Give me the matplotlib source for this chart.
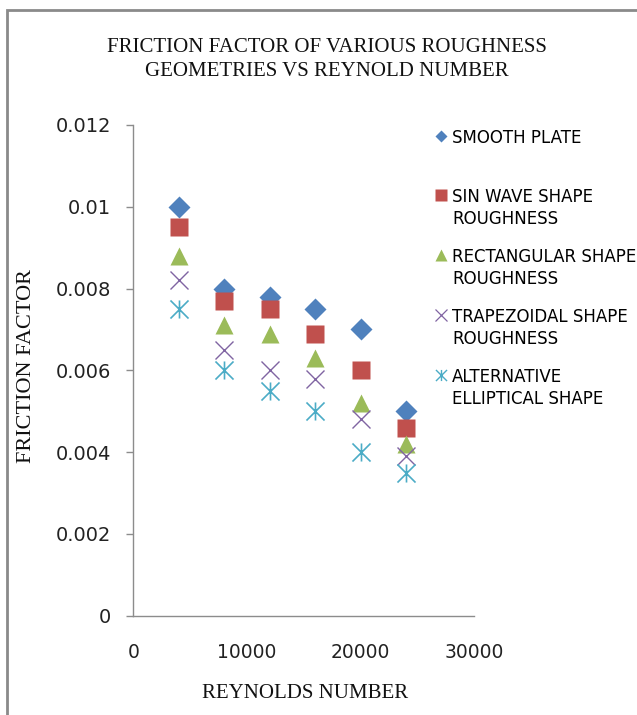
import matplotlib
matplotlib.use("Agg")
import matplotlib.pyplot as plt
from matplotlib.lines import Line2D
from matplotlib.path import Path
from matplotlib.patches import Rectangle
from matplotlib.ticker import FixedLocator

reynolds = [4000, 8000, 12000, 16000, 20000, 24000]
smooth_plate = [0.0100, 0.0080, 0.0078, 0.0075, 0.0070, 0.0050]
sin_wave = [0.0095, 0.0077, 0.0075, 0.0069, 0.0060, 0.0046]
rectangular = [0.0088, 0.0071, 0.0069, 0.0063, 0.0052, 0.0042]
trapezoidal = [0.0082, 0.0065, 0.0060, 0.0058, 0.0048, 0.0039]
elliptical = [0.0075, 0.0060, 0.0055, 0.0050, 0.0040, 0.0035]

series_labels = [
    ["SMOOTH PLATE"],
    ["SIN WAVE SHAPE", "ROUGHNESS"],
    ["RECTANGULAR SHAPE", "ROUGHNESS"],
    ["TRAPEZOIDAL SHAPE", "ROUGHNESS"],
    ["ALTERNATIVE", "ELLIPTICAL SHAPE"],
]
x_ticks = [0, 10000, 20000, 30000]
y_ticks = [0, 0.002, 0.004, 0.006, 0.008, 0.010, 0.012]
y_tick_labels = ["0", "0.002", "0.004", "0.006", "0.008", "0.01", "0.012"]

# asterisk marker: an X with a vertical stroke through it
star_path = Path(
    [(-0.5, -0.5), (0.5, 0.5), (-0.5, 0.5), (0.5, -0.5), (0, -0.5), (0, 0.5)],
    [Path.MOVETO, Path.LINETO, Path.MOVETO, Path.LINETO, Path.MOVETO, Path.LINETO],
)

colors = ["#4F81BD", "#C0504D", "#9BBB59", "#8064A2", "#4BACC6"]
styles = [
    dict(marker="D", ms=11, mec="none"),
    dict(marker="s", ms=13, mec="none"),
    dict(marker="^", ms=13, mec="none"),
    dict(marker="x", ms=13, mew=1.0),
    dict(marker=star_path, ms=13, mew=1.2),
]
all_series = [smooth_plate, sin_wave, rectangular, trapezoidal, elliptical]

W, H = 637, 715
fig = plt.figure(figsize=(W / 100, H / 100), dpi=100)
ax = fig.add_axes([133.3 / W, 1 - 615.7 / H, (474.3 - 133.3) / W, (615.7 - 125) / H])

for vals, st, c in zip(all_series, styles, colors):
    ax.plot(reynolds, vals, linestyle="none", color=c, **st)

ax.set_xlim(0, 30000)
ax.set_ylim(0, 0.012)
ax.xaxis.set_major_locator(FixedLocator(x_ticks))
ax.set_xticklabels([str(v) for v in x_ticks])
ax.yaxis.set_major_locator(FixedLocator(y_ticks))
ax.set_yticklabels(y_tick_labels)

for side in ("top", "right"):
    ax.spines[side].set_visible(False)
for side in ("left", "bottom"):
    ax.spines[side].set_color("#8C8C8C")
    ax.spines[side].set_linewidth(1.0)

ax.tick_params(axis="y", direction="out", length=5, width=1.0, color="#8C8C8C",
               pad=11, labelsize=14, labelcolor="#222222")
ax.tick_params(axis="x", length=0, pad=20, labelsize=13.5, labelcolor="#222222")

serif = "Liberation Serif"
tsize = 15
fig.text(327 / W, 1 - 47 / H, "FRICTION FACTOR OF VARIOUS ROUGHNESS",
         ha="center", va="center", family=serif, fontsize=tsize, color="#111111")
fig.text(327 / W, 1 - 72 / H, "GEOMETRIES VS REYNOLD NUMBER",
         ha="center", va="center", family=serif, fontsize=tsize, color="#111111")
fig.text(27 / W, 1 - 366 / H, "FRICTION FACTOR", rotation=90,
         ha="center", va="center", family=serif, fontsize=16, color="#111111")
fig.text(305 / W, 1 - 693 / H, "REYNOLDS NUMBER",
         ha="center", va="center", family=serif, fontsize=tsize, color="#111111")

# legend, marker aligned with the first text line of each entry
legend_rows = [136, 195, 255, 315, 375]
leg_styles = [
    dict(marker="D", ms=6, mec="none"),
    dict(marker="s", ms=8, mec="none"),
    dict(marker="^", ms=8, mec="none"),
    dict(marker="x", ms=8, mew=0.9),
    dict(marker=star_path, ms=8, mew=1.0),
]
for lines, y, st, c in zip(series_labels, legend_rows, leg_styles, colors):
    fig.add_artist(Line2D([441 / W], [1 - y / H], linestyle="none", color=c,
                          transform=fig.transFigure, **st))
    for i, line in enumerate(lines):
        fig.text(452 / W, 1 - (y + 21.5 * i) / H, line, ha="left",
                 va="center_baseline", fontsize=12, color="#000000")

# chart-area frame
fig.add_artist(Rectangle((7 / W, -0.05), 1.2, (1 - 10 / H) + 0.05,
                         transform=fig.transFigure, fill=False,
                         edgecolor="#8A8A8A", linewidth=2.0))

fig.savefig("out.png", dpi=100)
